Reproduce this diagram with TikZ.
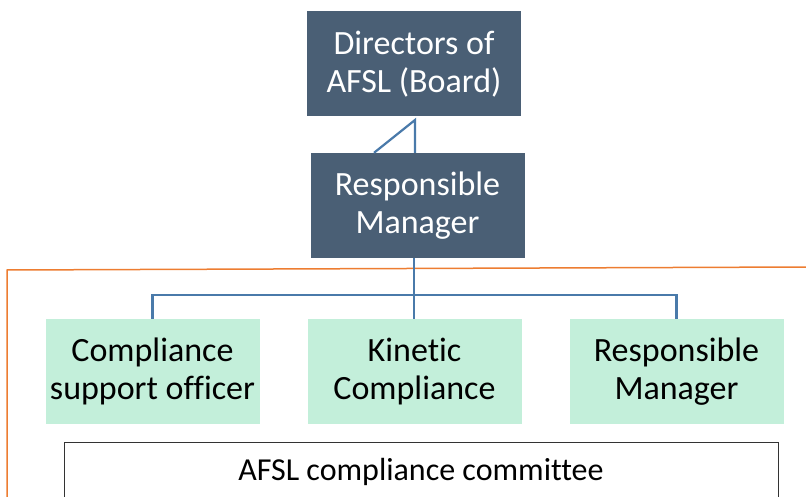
\documentclass[tikz,border=0pt]{standalone}
\usepackage{fontspec}
\setmainfont{Carlito}[Ligatures=NoCommon]

\definecolor{slate}{HTML}{4A5F75}
\definecolor{mint}{HTML}{C3EFDA}
\definecolor{linkblue}{HTML}{4A7AAA}
\definecolor{rim}{HTML}{ED7D31}

\begin{document}
\begin{tikzpicture}[x=1pt,y=1pt]
    \tikzstyle{every node}+=[inner sep=0pt, align=center, font=\fontsize{34}{38}\selectfont]
    \tikzstyle{topbox}=[fill=slate, text=white, minimum width=214pt, minimum height=105pt]
    \tikzstyle{staffbox}=[fill=mint, text=black, minimum width=214pt, minimum height=105pt]
    \tikzstyle{link}=[draw=linkblue, line width=2.2pt]
    \useasboundingbox (0,0) rectangle (806,-497);

    % top of the chart
    \node [topbox] (board) at (414,-64) {Directors of\\AFSL (Board)};
    \node [topbox] (rm) at (417.5,-205.5) {Responsible\\Manager};
    \coordinate (kink) at (415,-120);
    \draw [link] (rm.north -| 374,0) -- (kink) -- (rm.north -| kink);

    % frame round the lower part
    \draw [rim, line width=1.5pt] (806,-267) -- (7,-270) -- (7,-497);

    % staff row
    \node [staffbox] (cso) at (152.5,-371.5) {Compliance\\support officer};
    \node [staffbox] (kc) at (414.5,-371.5) {Kinetic\\Compliance};
    \node [staffbox] (rm2) at (676.5,-371.5) {Responsible\\Manager};
    \coordinate (bar) at (414,-295);
    \draw [link] (rm.south -| bar) -- (bar);
    \draw [link] (cso.north) -- (cso.north |- bar) -- (rm2.north |- bar) -- (rm2.north);
    \draw [link] (bar) -- (kc.north -| bar);

    % committee
    \draw [black!80, line width=1pt] (64,-497) -- (64,-442) -- (778,-442) -- (778,-497);
    \node [font=\fontsize{32}{36}\selectfont] (cttee) at (421,-472) {AFSL compliance committee};
\end{tikzpicture}
\end{document}
